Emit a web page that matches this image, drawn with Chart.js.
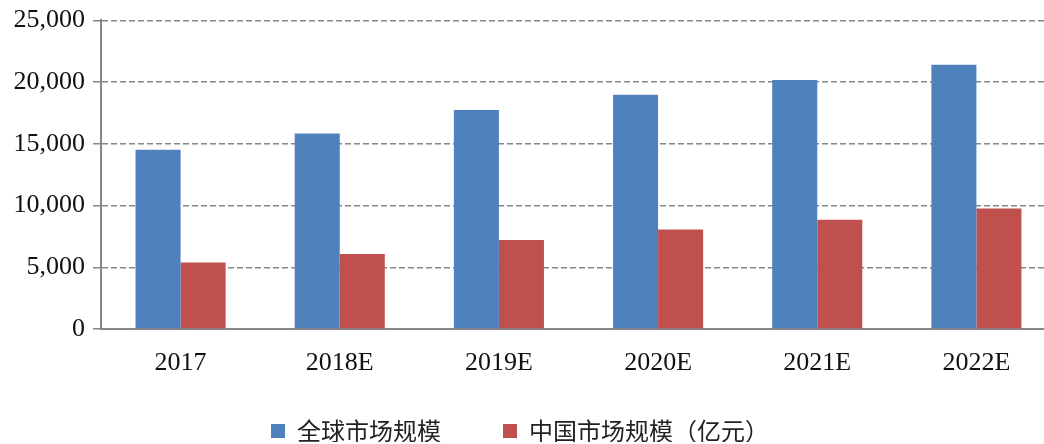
<!DOCTYPE html>
<html>
<head>
<meta charset="utf-8">
<script src="https://cdn.jsdelivr.net/npm/chart.js@4"></script>
<style>
  html, body { margin: 0; padding: 0; overflow: hidden; background: #fff; }
  #wrap { width: 1056px; height: 444px; }
</style>
</head>
<body>
<div id="wrap"><canvas id="marketChart"></canvas></div>
<script>
// 시장 규모 데이터
const years = ["2017", "2018E", "2019E", "2020E", "2021E", "2022E"];
const globalSize = [14520, 15840, 17740, 18980, 20160, 21400];
const chinaSize = [5380, 6080, 7210, 8060, 8850, 9760];
const seriesNames = ["全球市场规模", "中国市场规模（亿元）"];

const serifFont = "'Liberation Serif', 'Times New Roman', serif";
const cjkFont = "'Noto Sans CJK SC', sans-serif";

// 범례 위치 보정 + x축 라벨 잘림 방지
const layoutFix = {
    id: "layoutFix",
    afterLayout(chart) {
        chart.legend.left -= 8;
        chart.legend.right -= 8;
        chart.scales.x.bottom += 20;
    }
};

const marketChart = new Chart(document.getElementById("marketChart"), {
    type: "bar",
    data: {
        labels: years,
        datasets: [
            {
                label: seriesNames[0],
                data: globalSize,
                backgroundColor: "#4F81BD",
                categoryPercentage: 0.566,
                barPercentage: 1.0
            },
            {
                label: seriesNames[1],
                data: chinaSize,
                backgroundColor: "#C0504D",
                categoryPercentage: 0.566,
                barPercentage: 1.0
            }
        ]
    },
    plugins: [layoutFix],
    options: {
        responsive: true,
        maintainAspectRatio: false,
        animation: false,
        layout: {
            padding: { top: 0, left: 0, right: 0, bottom: 2 }
        },
        plugins: {
            tooltip: { enabled: false },
            legend: {
                position: "bottom",
                maxHeight: 85,
                labels: {
                    boxWidth: 14,
                    boxHeight: 14,
                    padding: 62,
                    color: "#222",
                    font: { family: cjkFont, size: 24 }
                }
            }
        },
        scales: {
            x: {
                afterFit: function(axis) { axis.height = 28; },
                grid: { display: false },
                border: { display: true, color: "#868686", width: 2 },
                ticks: {
                    color: "#111",
                    padding: 11,
                    font: { family: serifFont, size: 26 }
                }
            },
            y: {
                min: 0,
                max: 25000,
                afterFit: function(axis) { axis.width = 101; },
                ticks: {
                    stepSize: 5000,
                    color: "#111",
                    padding: 8,
                    font: { family: serifFont, size: 26, lineHeight: 0.95 },
                    callback: v => v.toLocaleString("en-US")
                },
                grid: {
                    color: "#868686",
                    lineWidth: 1.5,
                    tickLength: 8,
                    tickColor: "#868686"
                },
                border: { display: true, color: "#868686", width: 2, dash: [6, 3] }
            }
        }
    }
});
</script>
</body>
</html>
